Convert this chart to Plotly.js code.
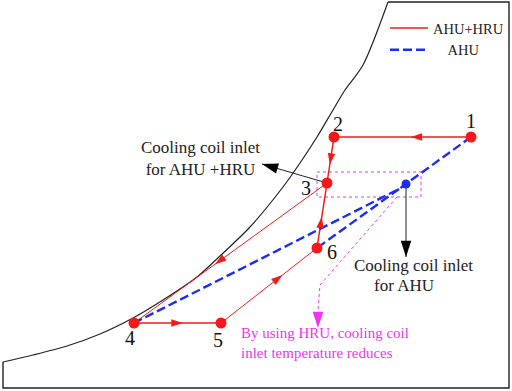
<!DOCTYPE html>
<html><head><meta charset="utf-8">
<script src="https://cdn.plot.ly/plotly-3.0.1.min.js"></script>
<style>html,body{margin:0;padding:0;background:#fff}#chart{width:512px;height:391px}</style>
</head><body><div id="chart"></div>
<script>
// Saturation curve (schematic psychrometric chart: x = dry-bulb, y = humidity ratio, arbitrary units)
const curveX = [3,33,67,100,133,163,197,220,250,283,300,317,333,345,363,388];
const curveY = [29,36,45,57,73,91,114,135,164,204,228,254,281,301,326,389];
// Chart outline (top, right, bottom, left edges)
const frameX = [388,509,509,3,3];
const frameY = [389,389,3,3,29];
// State points 1..6 (AHU+HRU process)
const pointLabels = ['1','2','3','4','5','6'];
const pointX = [471,334,327,134,221,317];
const pointY = [254,254,208,68,68,143];
// Process order (indices into points), arrow position along segment, line weight
const hruSegments = [[0,1,0.44,'thick'],[1,2,0.6,'thick'],[2,3,0.58,'thin'],[3,4,0.56,'thick'],[4,5,0.64,'thin'],[5,2,0.48,'thick']];
// AHU only: mixing point (cooling coil inlet for AHU) and junction
const ahuInletX = [406];
const ahuInletY = [207];
const ahuJunctionX = [399];
const ahuJunctionY = [202];
// highlighted region (dotted box)
const boxX = [317,421,421,317,317];
const boxY = [219,219,194,194,219];
// pointer from box to note
const pointerX = [397,320,318];
const pointerY = [194,106,80];
const pointerTip = [318,63];
// annotation arrows: [fromX, fromY, tipX, tipY]
const blackArrows = [[327,208,262,227],[406,207,406,134]];

const RED = '#f41818', BLUE = '#1c2cf0', MAG = '#ee33ee', BLK = '#222222';
function angleOf(dx, dy){ return Math.atan2(dx, dy) * 180 / Math.PI; }

const traces = [];
// outline & saturation curve
traces.push({x: frameX, y: frameY, mode:'lines', line:{color:BLK, width:1.4}, showlegend:false, hoverinfo:'skip'});
traces.push({x: curveX, y: curveY, mode:'lines', line:{color:BLK, width:1.2, shape:'spline', smoothing:0.8}, showlegend:false, hoverinfo:'skip'});
// dotted box and pointer
traces.push({x: boxX, y: boxY, mode:'lines', line:{color:MAG, width:1, dash:'dot'}, showlegend:false, hoverinfo:'skip'});
traces.push({x: pointerX, y: pointerY, mode:'lines', line:{color:MAG, width:1, dash:'dot'}, showlegend:false, hoverinfo:'skip'});
traces.push({x:[pointerTip[0]], y:[pointerTip[1]], mode:'markers', marker:{symbol:'arrow', size:17, color:MAG, angle:180, line:{width:0}}, showlegend:false, hoverinfo:'skip'});

// AHU+HRU lines
function segXY(kind){
  const xs=[], ys=[];
  hruSegments.filter(s=>s[3]===kind).forEach(s=>{xs.push(pointX[s[0]],pointX[s[1]],null); ys.push(pointY[s[0]],pointY[s[1]],null);});
  return [xs, ys];
}
const thick = segXY('thick'), thin = segXY('thin');
traces.push({x: thick[0], y: thick[1], mode:'lines', name:'AHU+HRU', line:{color:RED, width:1.5}, connectgaps:false, showlegend:true, hoverinfo:'skip'});
traces.push({x: thin[0], y: thin[1], mode:'lines', line:{color:RED, width:1}, connectgaps:false, showlegend:false, hoverinfo:'skip'});
// AHU lines
traces.push({x:[pointX[0], ahuJunctionX[0], pointX[3]], y:[pointY[0], ahuJunctionY[0], pointY[3]], mode:'lines', name:'\u00a0\u00a0\u00a0\u00a0AHU', line:{color:BLUE, width:2.4, dash:'9px,4px'}, showlegend:true, hoverinfo:'skip'});
traces.push({x:[ahuJunctionX[0], pointX[5]], y:[ahuJunctionY[0], pointY[5]], mode:'lines', line:{color:BLUE, width:2.4, dash:'9px,4px'}, showlegend:false, hoverinfo:'skip'});

// black annotation arrows
blackArrows.forEach(a=>{
  traces.push({x:[a[0],a[2]], y:[a[1],a[3]], mode:'lines', line:{color:BLK, width:1}, showlegend:false, hoverinfo:'skip'});
  traces.push({x:[a[2]], y:[a[3]], mode:'markers', marker:{symbol:'arrow', size:17, color:'#000', angle:angleOf(a[2]-a[0], a[3]-a[1]), line:{width:0}}, showlegend:false, hoverinfo:'skip'});
});

// red direction arrows
const arX=[], arY=[], arA=[];
hruSegments.forEach(s=>{
  const x0=pointX[s[0]], y0=pointY[s[0]], x1=pointX[s[1]], y1=pointY[s[1]];
  arX.push(x0+(x1-x0)*s[2]); arY.push(y0+(y1-y0)*s[2]); arA.push(angleOf(x1-x0, y1-y0));
});
traces.push({x:arX, y:arY, mode:'markers', marker:{symbol:'arrow', size:12, color:RED, angle:arA, line:{width:0}}, showlegend:false, hoverinfo:'skip'});

// points
traces.push({x:pointX, y:pointY, mode:'markers', marker:{size:11, color:RED}, showlegend:false, hoverinfo:'skip'});
traces.push({x:ahuInletX, y:ahuInletY, mode:'markers', marker:{size:9, color:BLUE}, showlegend:false, hoverinfo:'skip'});

// label offsets (px): [xshift, yshift]
const labelShift = [[0,16],[4,13],[-21,-5],[-4,-15],[-3,-17],[15,-4]];
const annotations = pointLabels.map((t,i)=>({x:pointX[i], y:pointY[i], text:t, showarrow:false, xshift:labelShift[i][0], yshift:labelShift[i][1], font:{family:'Liberation Serif', size:20, color:'#111'}}));
const serif = 'Liberation Serif';
annotations.push({x:200, y:233, text:'Cooling coil inlet<br>for AHU +HRU', showarrow:false, align:'center', font:{family:serif, size:17, color:'#222'}});
annotations.push({x:413, y:126, text:'Cooling coil inlet', showarrow:false, font:{family:serif, size:17, color:'#222'}});
annotations.push({x:404, y:106, text:'for AHU', showarrow:false, font:{family:serif, size:17, color:'#222'}});
annotations.push({x:239, y:48, text:'By using HRU, cooling coil<br>inlet temperature reduces', showarrow:false, xanchor:'left', align:'left', font:{family:serif, size:15, color:MAG}});

const layout = {
  width:512, height:391, margin:{l:0,r:0,t:0,b:0},
  paper_bgcolor:'#fff', plot_bgcolor:'#fff',
  xaxis:{range:[0,512], visible:false, fixedrange:true},
  yaxis:{range:[0,391], visible:false, fixedrange:true},
  showlegend:true,
  legend:{x:385/512, y:1-12/391, xanchor:'left', yanchor:'top', bgcolor:'rgba(0,0,0,0)', borderwidth:0, itemwidth:38, font:{family:serif, size:14.5, color:'#222'}},
  annotations: annotations
};
Plotly.newPlot('chart', traces, layout, {staticPlot:true, displayModeBar:false});
</script></body></html>
